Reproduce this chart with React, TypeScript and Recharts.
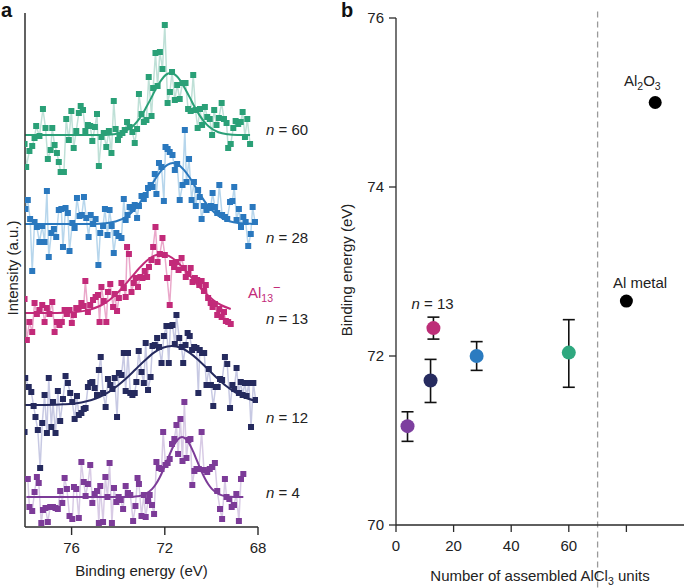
import React from 'react';
import { ComposedChart, Line, Scatter, XAxis, YAxis, ErrorBar, ReferenceLine } from 'recharts';

type Pair = [number, number];

// ---------- Panel a: XPS spectra (binding energy eV, intensity a.u.) ----------
const N60_POINTS: Pair[] = [[78.02,383],[77.95,360],[77.81,376],[77.69,381],[77.59,389],[77.52,401],[77.38,391],[77.23,418],[77.12,399],[77.02,368],[76.90,377],[76.83,399],[76.73,382],[76.63,374],[76.55,365],[76.47,355],[76.33,355],[76.23,408],[76.12,387],[76.01,416],[75.91,379],[75.80,396],[75.69,414],[75.61,421],[75.51,417],[75.41,396],[75.30,402],[75.20,401],[75.11,386],[75.00,400],[74.91,413],[74.83,361],[74.72,390],[74.62,394],[74.51,380],[74.40,396],[74.29,374],[74.19,426],[74.11,398],[74.01,387],[73.94,392],[73.82,394],[73.72,397],[73.62,405],[73.51,400],[73.39,395],[73.29,384],[73.19,398],[73.11,433],[73.00,413],[72.90,405],[72.79,407],[72.69,450],[72.57,411],[72.50,439],[72.40,474],[72.31,441],[72.21,475],[72.10,458],[72.00,502],[71.88,424],[71.78,435],[71.69,455],[71.57,427],[71.47,442],[71.36,428],[71.24,444],[71.11,444],[71.00,418],[70.89,416],[70.78,452],[70.68,417],[70.59,399],[70.49,418],[70.40,402],[70.28,420],[70.18,410],[70.07,408],[69.97,392],[69.88,417],[69.78,402],[69.68,409],[69.56,424],[69.46,408],[69.35,404],[69.28,379],[69.17,383],[69.06,399],[68.96,406],[68.85,403],[68.74,405],[68.66,415],[68.56,390],[68.46,408],[68.34,383]];
const N60_FIT: Pair[] = [[78.0,392],[74.62,392.1],[74.21,392.7],[73.8,394.7],[73.39,400.4],[73.19,405.4],[72.98,412.1],[72.78,420.4],[72.57,429.6],[72.37,438.8],[72.16,446.7],[71.96,452.1],[71.75,454],[71.55,452.1],[71.34,446.7],[71.14,438.8],[70.93,429.6],[70.73,420.4],[70.52,412.1],[70.31,405.4],[70.11,400.4],[69.7,394.7],[69.29,392.7],[68.88,392.1],[68.34,392]];

const N28_POINTS: Pair[] = [[77.98,318],[77.88,327],[77.78,308],[77.69,256],[77.59,305],[77.49,300],[77.38,285],[77.26,301],[77.16,285],[77.06,336],[76.98,270],[76.87,294],[76.76,298],[76.66,290],[76.55,317],[76.44,318],[76.37,280],[76.26,319],[76.16,314],[76.09,276],[75.97,304],[75.87,299],[75.77,329],[75.66,311],[75.56,312],[75.47,330],[75.37,309],[75.27,290],[75.18,312],[75.08,303],[74.97,308],[74.85,262],[74.77,294],[74.65,301],[74.57,318],[74.46,292],[74.37,317],[74.28,301],[74.19,274],[74.08,294],[73.98,291],[73.86,289],[73.76,328],[73.68,307],[73.60,312],[73.51,320],[73.39,318],[73.29,322],[73.19,309],[73.11,321],[73.00,331],[72.90,328],[72.82,332],[72.72,339],[72.61,342],[72.53,340],[72.43,353],[72.36,333],[72.25,364],[72.14,360],[72.04,326],[71.97,380],[71.88,378],[71.79,375],[71.67,372],[71.57,357],[71.47,363],[71.36,327],[71.24,342],[71.14,397],[71.07,345],[70.96,368],[70.85,327],[70.75,345],[70.67,321],[70.57,337],[70.50,330],[70.42,308],[70.32,321],[70.21,317],[70.11,319],[70.02,321],[69.95,334],[69.85,320],[69.75,314],[69.66,342],[69.54,312],[69.42,310],[69.32,308],[69.20,325],[69.10,326],[69.02,340],[68.92,307],[68.82,318],[68.73,300],[68.63,310],[68.53,305],[68.42,281],[68.31,293],[68.23,320],[68.13,305]];
const N28_FIT: Pair[] = [[78.0,303],[75.05,303.1],[74.56,303.7],[74.08,305.7],[73.59,311.3],[73.35,316.2],[73.11,322.8],[72.86,330.9],[72.62,340],[72.38,349],[72.14,356.8],[71.89,362.1],[71.65,364],[71.41,362.1],[71.17,356.8],[70.92,349],[70.68,340],[70.44,330.9],[70.2,322.8],[69.95,316.2],[69.71,311.3],[69.23,305.7],[68.74,303.7],[68.26,303.1],[68.06,303]];

const N13_POINTS: Pair[] = [[78.02,228],[77.92,187],[77.81,205],[77.69,195],[77.59,224],[77.49,213],[77.38,217],[77.26,222],[77.16,205],[77.06,219],[76.95,213],[76.83,225],[76.73,195],[76.63,205],[76.52,202],[76.42,205],[76.30,217],[76.20,213],[76.09,217],[75.99,204],[75.90,212],[75.80,219],[75.70,218],[75.58,224],[75.48,221],[75.41,246],[75.30,215],[75.20,222],[75.08,227],[74.97,230],[74.87,232],[74.80,205],[74.72,240],[74.62,226],[74.51,205],[74.44,235],[74.34,243],[74.22,220],[74.15,233],[74.05,216],[73.97,229],[73.86,244],[73.76,239],[73.68,230],[73.62,280],[73.54,273],[73.43,235],[73.33,244],[73.25,249],[73.15,240],[73.05,250],[72.96,249],[72.86,256],[72.76,250],[72.68,260],[72.57,267],[72.50,280],[72.40,300],[72.31,265],[72.21,273],[72.10,289],[72.00,272],[71.90,249],[71.79,222],[71.69,264],[71.60,260],[71.50,265],[71.41,257],[71.28,269],[71.18,259],[71.10,250],[71.00,253],[70.89,259],[70.81,245],[70.71,249],[70.61,247],[70.52,242],[70.42,246],[70.32,236],[70.24,242],[70.14,229],[70.03,224],[69.95,220],[69.85,223],[69.75,212],[69.66,218],[69.56,210],[69.46,215],[69.38,206],[69.28,205],[69.17,203]];
const N13_FIT: Pair[] = [[78.0,214],[76.63,214.1],[75.99,214.7],[75.35,216.6],[74.71,222],[74.39,226.8],[74.07,233.2],[73.75,241],[73.43,249.8],[73.11,258.5],[72.79,266.1],[72.47,271.2],[72.15,273],[71.83,271.2],[71.51,266.1],[71.19,258.5],[70.87,249.8],[70.55,241],[70.23,233.2],[69.91,226.8],[69.59,222],[69.17,218]];

const N12_POINTS: Pair[] = [[78.02,95],[77.99,149],[77.84,140],[77.73,135],[77.63,121],[77.55,110],[77.45,97],[77.35,59],[77.26,104],[77.16,132],[77.06,94],[76.98,149],[76.87,100],[76.80,125],[76.69,94],[76.59,136],[76.49,106],[76.37,128],[76.26,151],[76.16,144],[76.06,134],[75.97,125],[75.87,108],[75.77,131],[75.69,112],[75.58,114],[75.48,118],[75.40,119],[75.30,140],[75.20,144],[75.11,145],[75.01,139],[74.91,132],[74.83,157],[74.75,170],[74.65,134],[74.54,120],[74.44,148],[74.34,142],[74.25,138],[74.15,149],[74.05,110],[73.97,154],[73.86,152],[73.76,174],[73.68,136],[73.58,174],[73.48,134],[73.39,132],[73.29,134],[73.22,145],[73.12,176],[73.00,155],[72.90,144],[72.82,184],[72.72,137],[72.61,150],[72.53,181],[72.43,182],[72.33,189],[72.25,180],[72.14,164],[72.04,191],[71.93,201],[71.83,164],[71.76,201],[71.67,202],[71.57,183],[71.50,212],[71.38,189],[71.28,180],[71.21,164],[71.11,182],[71.02,194],[70.93,191],[70.83,177],[70.74,180],[70.64,179],[70.56,134],[70.50,177],[70.40,174],[70.31,174],[70.21,142],[70.11,158],[70.02,142],[69.92,121],[69.82,140],[69.73,140],[69.63,148],[69.54,147],[69.42,170],[69.32,163],[69.20,119],[69.10,142],[69.02,138],[68.92,159],[68.82,134],[68.74,145],[68.66,132],[68.56,144],[68.49,131],[68.39,144],[68.30,100],[68.20,144],[68.10,127]];
const N12_FIT: Pair[] = [[78.0,122],[77.13,122.1],[76.35,122.7],[75.58,124.6],[74.8,130],[74.41,134.8],[74.03,141.2],[73.64,149],[73.25,157.8],[72.86,166.5],[72.48,174.1],[72.09,179.2],[71.7,181],[71.31,179.2],[70.93,174.1],[70.54,166.5],[70.15,157.8],[69.76,149],[69.38,141.2],[68.99,134.8],[68.6,130],[68.1,126]];

const N4_POINTS: Pair[] = [[77.88,48],[77.81,20],[77.69,16],[77.59,35],[77.49,50],[77.41,44],[77.30,4],[77.23,17],[77.12,19],[77.02,5],[76.92,20],[76.80,20],[76.69,19],[76.59,18],[76.49,36],[76.40,24],[76.30,49],[76.20,38],[76.09,11],[75.97,8],[75.90,40],[75.80,38],[75.69,9],[75.58,65],[75.48,45],[75.40,31],[75.30,43],[75.20,62],[75.11,24],[75.01,33],[74.91,36],[74.83,4],[74.77,41],[74.65,5],[74.55,50],[74.46,30],[74.37,64],[74.27,4],[74.18,39],[74.08,25],[73.98,30],[73.89,27],[73.79,18],[73.68,41],[73.58,34],[73.48,32],[73.36,6],[73.26,21],[73.17,49],[73.11,43],[73.00,11],[72.90,32],[72.82,10],[72.72,26],[72.65,32],[72.55,22],[72.46,13],[72.36,65],[72.25,59],[72.14,58],[72.07,95],[71.97,62],[71.88,64],[71.79,68],[71.69,83],[71.59,88],[71.50,102],[71.43,73],[71.33,108],[71.24,66],[71.16,125],[71.07,69],[70.99,87],[70.90,88],[70.82,42],[70.73,56],[70.64,58],[70.54,58],[70.42,95],[70.32,57],[70.18,55],[70.07,58],[69.97,60],[69.85,64],[69.75,36],[69.63,18],[69.54,8],[69.42,48],[69.35,30],[69.23,28],[69.13,20],[69.03,22],[68.93,33],[68.82,6],[68.73,48],[68.63,53]];
const N4_FIT: Pair[] = [[77.94,30],[73.5,30.1],[73.18,30.7],[72.86,32.6],[72.54,38.1],[72.38,43],[72.22,49.5],[72.06,57.5],[71.9,66.4],[71.74,75.3],[71.58,83],[71.42,88.1],[71.26,90],[71.1,88.1],[70.94,83],[70.78,75.3],[70.62,66.4],[70.46,57.5],[70.3,49.5],[70.14,43],[69.98,38.1],[69.66,32.6],[69.34,30.7],[69.02,30.1],[68.63,30]];

const SPECTRUM_TICKS = [76, 72, 68];
const ENERGY_DOMAIN: [number, number] = [68, 78];
const INTENSITY_DOMAIN: [number, number] = [0, 514];

// ---------- Panel b: binding energy vs number of AlCl3 units ----------
const CLUSTER_N = [4, 12, 13, 28, 60];
const CLUSTER_BE = [71.17, 71.71, 72.33, 72.0, 72.04];
const CLUSTER_ERR: Pair[] = [[0.18, 0.17], [0.26, 0.25], [0.13, 0.13], [0.17, 0.17], [0.41, 0.39]];
const REF_X = [80, 90];
const REF_BE = [72.65, 75.0];
const UNIT_TICKS = [0, 20, 40, 60, 80];
const BE_TICKS = [70, 72, 74, 76];
const BULK_DIVIDER = 70;

const FONT = '"Liberation Sans", Arial, Helvetica, sans-serif';
const AXIS = '#2a2a2a';

const COL = {
  n60: { dark: '#2aa077', light: '#bfe0d7' },
  n28: { dark: '#2a78be', light: '#b7d6ec' },
  n13: { dark: '#c22a79', light: '#eaa8ca' },
  n12: { dark: '#252a5e', light: '#c7c9e3' },
  n4: { dark: '#7c3b98', light: '#d8cbe5' },
};
const CLUSTER_COLORS = ['#7d3f9f', '#262b5f', '#bd2e78', '#2b7bc0', '#2fa87f'];

const toObj = (arr: Pair[]) => arr.map(([e, i]) => ({ e, i }));

const SPECTRA = [
  { key: 'n60', pts: N60_POINTS, fit: N60_FIT, ...COL.n60 },
  { key: 'n28', pts: N28_POINTS, fit: N28_FIT, ...COL.n28 },
  { key: 'n13', pts: N13_POINTS, fit: N13_FIT, ...COL.n13 },
  { key: 'n12', pts: N12_POINTS, fit: N12_FIT, ...COL.n12 },
  { key: 'n4', pts: N4_POINTS, fit: N4_FIT, ...COL.n4 },
];

const squareShape = (color: string) => (p: any) => {
  if (p.cx == null || p.cy == null) return <g />;
  return <rect x={p.cx - 3} y={p.cy - 3} width={6} height={6} fill={color} />;
};
const circleShape = (color: string, r: number) => (p: any) => {
  if (p.cx == null || p.cy == null) return <g />;
  return <circle cx={p.cx} cy={p.cy} r={r} fill={color} />;
};

const tickStyle = { fontSize: 15, fill: '#222', fontFamily: FONT };

function PanelA() {
  return (
    <ComposedChart width={340} height={588} margin={{ top: 13, right: 82, bottom: 31, left: 0 }}>
      <XAxis
        type="number"
        dataKey="e"
        domain={ENERGY_DOMAIN}
        reversed
        allowDataOverflow
        ticks={SPECTRUM_TICKS}
        height={30}
        tickSize={8}
        tickMargin={7}
        tick={tickStyle}
        axisLine={{ stroke: AXIS, strokeWidth: 1.4 }}
        tickLine={{ stroke: AXIS, strokeWidth: 1.4 }}
      />
      <YAxis
        type="number"
        dataKey="i"
        domain={INTENSITY_DOMAIN}
        allowDataOverflow
        width={25}
        tick={false}
        tickLine={false}
        axisLine={{ stroke: '#3a3a3a', strokeWidth: 1.6 }}
      />
      {SPECTRA.map((s) => (
        <Line
          key={s.key + '-conn'}
          data={toObj(s.pts)}
          dataKey="i"
          type="linear"
          stroke={s.light}
          strokeWidth={1.5}
          dot={false}
          activeDot={false}
          isAnimationActive={false}
        />
      ))}
      {SPECTRA.map((s) => (
        <Scatter
          key={s.key + '-pts'}
          data={toObj(s.pts)}
          dataKey="i"
          fill={s.dark}
          shape={squareShape(s.dark)}
          isAnimationActive={false}
        />
      ))}
      {SPECTRA.map((s) => (
        <Line
          key={s.key + '-fit'}
          data={toObj(s.fit)}
          dataKey="i"
          type="monotone"
          stroke={s.dark}
          strokeWidth={2}
          dot={false}
          activeDot={false}
          isAnimationActive={false}
        />
      ))}
    </ComposedChart>
  );
}

function PanelB() {
  const clusters = CLUSTER_N.map((n, idx) => ({ x: n, y: CLUSTER_BE[idx], err: CLUSTER_ERR[idx] }));
  const refs = REF_X.map((x, idx) => ({ x, y: REF_BE[idx] }));
  return (
    <ComposedChart width={345} height={588} margin={{ top: 18, right: 1, bottom: 33, left: 0 }}>
      <XAxis
        type="number"
        dataKey="x"
        domain={[0, 100]}
        allowDataOverflow
        ticks={UNIT_TICKS}
        tickFormatter={(v: number) => (v === 80 ? '' : String(v))}
        height={30}
        tickSize={7}
        tickMargin={8}
        tick={tickStyle}
        axisLine={{ stroke: AXIS, strokeWidth: 1.3 }}
        tickLine={{ stroke: AXIS, strokeWidth: 1.3 }}
      />
      <YAxis
        type="number"
        dataKey="y"
        domain={[70, 76]}
        allowDataOverflow
        ticks={BE_TICKS}
        width={56}
        tickSize={7}
        tickMargin={5}
        tick={tickStyle}
        axisLine={{ stroke: AXIS, strokeWidth: 1.3 }}
        tickLine={{ stroke: AXIS, strokeWidth: 1.3 }}
      />
      <ReferenceLine
        segment={[{ x: BULK_DIVIDER, y: 69.26 }, { x: BULK_DIVIDER, y: 76.1 }]}
        stroke="#9a9a9a"
        strokeWidth={1.3}
        strokeDasharray="6 4"
        ifOverflow="visible"
      />
      {clusters.map((c, idx) => (
        <Scatter
          key={'c' + idx}
          data={[c]}
          fill={CLUSTER_COLORS[idx]}
          shape={circleShape(CLUSTER_COLORS[idx], 7)}
          isAnimationActive={false}
        >
          <ErrorBar dataKey="err" direction="y" width={6} stroke="#111" strokeWidth={1.6} />
        </Scatter>
      ))}
      <Scatter data={refs} fill="#000" shape={circleShape('#000', 6.5)} isAnimationActive={false} />
    </ComposedChart>
  );
}

export default function App() {
  return (
    <div style={{ position: 'absolute', left: 0, top: 0, width: 685, height: 588, background: '#fff', fontFamily: FONT }}>
      <div style={{ position: 'absolute', left: 0, top: 0 }}>
        <PanelA />
      </div>
      <div style={{ position: 'absolute', left: 340, top: 0 }}>
        <PanelB />
      </div>
      <svg
        width={685}
        height={588}
        style={{ position: 'absolute', left: 0, top: 0, pointerEvents: 'none', overflow: 'visible' }}
        fontFamily={FONT}
      >
        <text x={1} y={17} fontSize={20} fontWeight="bold" fill="#111">a</text>
        <text x={341} y={17} fontSize={20} fontWeight="bold" fill="#111">b</text>

        <text transform="translate(17.5,268) rotate(-90)" textAnchor="middle" fontSize={15} fill="#222">Intensity (a.u.)</text>
        <text x={141.5} y={576} textAnchor="middle" fontSize={15} fill="#222">Binding energy (eV)</text>

        <text x={266} y={134.5} fontSize={15} fill="#222"><tspan fontStyle="italic">n</tspan> = 60</text>
        <text x={266} y={243} fontSize={15} fill="#222"><tspan fontStyle="italic">n</tspan> = 28</text>
        <text x={248} y={298} fontSize={15} fill="#c22a79">Al<tspan fontSize={10.5} dy={4}>13</tspan><tspan fontSize={13} dy={-10}>−</tspan></text>
        <text x={266} y={323.5} fontSize={15} fill="#222"><tspan fontStyle="italic">n</tspan> = 13</text>
        <text x={266} y={422.5} fontSize={15} fill="#222"><tspan fontStyle="italic">n</tspan> = 12</text>
        <text x={266} y={497.5} fontSize={15} fill="#222"><tspan fontStyle="italic">n</tspan> = 4</text>

        <text transform="translate(351.5,270) rotate(-90)" textAnchor="middle" fontSize={15} fill="#222">Binding energy (eV)</text>
        <text x={540} y={581} textAnchor="middle" fontSize={15} fill="#222">Number of assembled AlCl<tspan fontSize={10.5} dy={3.5}>3</tspan><tspan dy={-3.5}> units</tspan></text>
        <text x={411.5} y={308.5} fontSize={15} fill="#222"><tspan fontStyle="italic">n</tspan> = 13</text>
        <text x={613} y={288} fontSize={15} fill="#222">Al metal</text>
        <text x={624} y={86} fontSize={15} fill="#222">Al<tspan fontSize={10.5} dy={3.5}>2</tspan><tspan dy={-3.5}>O</tspan><tspan fontSize={10.5} dy={3.5}>3</tspan></text>
      </svg>
    </div>
  );
}
